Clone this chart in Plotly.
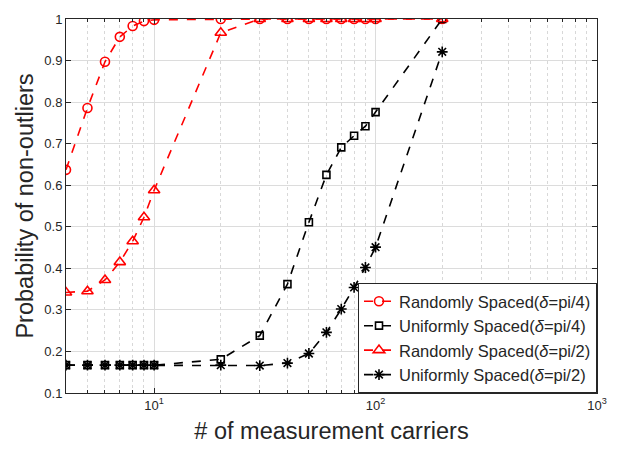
import plotly.graph_objects as go

carriers = [4, 5, 6, 7, 8, 9, 10, 20, 30, 40, 50, 60, 70, 80, 90, 100, 200]
rand_pi4 = [0.637, 0.786, 0.897, 0.957, 0.983, 0.995, 0.998, 1.0, 1.0, 1.0, 1.0, 1.0, 1.0, 1.0, 1.0, 1.0, 1.0]
unif_pi4 = [0.167, 0.167, 0.167, 0.167, 0.167, 0.167, 0.167, 0.181, 0.238, 0.362, 0.511, 0.625, 0.691, 0.719, 0.742, 0.776, 1.0]
rand_pi2 = [0.342, 0.345, 0.372, 0.415, 0.465, 0.523, 0.588, 0.967, 1.0, 1.0, 1.0, 1.0, 1.0, 1.0, 1.0, 1.0, 1.0]
unif_pi2 = [0.167, 0.167, 0.167, 0.167, 0.167, 0.167, 0.167, 0.167, 0.166, 0.172, 0.195, 0.246, 0.302, 0.354, 0.402, 0.451, 0.921]

names = ["Randomly Spaced(<i>δ</i>=pi/4)", "Uniformly Spaced(<i>δ</i>=pi/4)",
         "Randomly Spaced(<i>δ</i>=pi/2)", "Uniformly Spaced(<i>δ</i>=pi/2)"]
xtick_vals = [10, 100, 1000]
xtick_text = ["10<sup>1</sup>", "10<sup>2</sup>", "10<sup>3</sup>"]
minor_vals = [4, 5, 6, 7, 8, 9, 20, 30, 40, 50, 60, 70, 80, 90,
              200, 300, 400, 500, 600, 700, 800, 900]

RED = "#ff0000"
BLK = "#000000"
AX = "#262626"
FONT = "Liberation Sans, Arial, Helvetica, sans-serif"

fig = go.Figure()
series = [
    (rand_pi4, RED, "circle-open", 9),
    (unif_pi4, BLK, "square-open", 7),
    (rand_pi2, RED, "triangle-up-open", 10),
    (unif_pi2, BLK, "asterisk-open", 9),
]
for (vals, col, sym, sz), nm in zip(series, names):
    fig.add_trace(go.Scatter(
        x=carriers, y=vals, name=nm, mode="lines+markers",
        line=dict(color=col, width=1.6, dash="dash"),
        marker=dict(symbol=sym, size=sz, color=col, line=dict(color=col, width=1.6)),
    ))

fig.update_layout(
    width=620, height=451,
    margin=dict(l=66, r=23, t=13, b=57),
    paper_bgcolor="white", plot_bgcolor="white",
    font=dict(family=FONT, color=AX, size=13),
    showlegend=True,
    legend=dict(
        x=1, y=0, xanchor="right", yanchor="bottom",
        bgcolor="white", bordercolor=AX, borderwidth=1,
        font=dict(size=16.5, color=AX, family=FONT),
        tracegroupgap=0,
    ),
)
fig.update_xaxes(
    type="log", range=[0.60206, 3],
    tickmode="array", tickvals=xtick_vals, ticktext=xtick_text,
    ticks="inside", ticklen=5, tickcolor=AX,
    showline=True, linecolor=AX, linewidth=1, mirror="ticks",
    showgrid=True, gridcolor="#dcdcdc", gridwidth=1,
    tickfont=dict(size=13, color=AX),
    minor=dict(tickmode="array", tickvals=minor_vals, ticks="inside", ticklen=3,
               tickcolor=AX, showgrid=True, gridcolor="#d8d8d8", griddash="dot"),
    title=dict(text="# of measurement carriers", font=dict(size=23.5, color=AX), standoff=10),
    zeroline=False,
)
fig.update_yaxes(
    range=[0.1, 1], tick0=0.1, dtick=0.1,
    ticks="inside", ticklen=5, tickcolor=AX,
    showline=True, linecolor=AX, linewidth=1, mirror="ticks",
    showgrid=True, gridcolor="#dcdcdc", gridwidth=1,
    tickfont=dict(size=13, color=AX),
    title=dict(text="Probability of non-outliers", font=dict(size=23.5, color=AX), standoff=4),
    zeroline=False,
)

fig.write_html("out.html")
